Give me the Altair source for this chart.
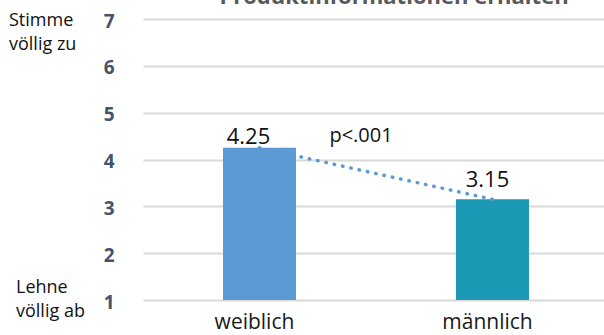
import altair as alt
import pandas as pd

categories = ["weiblich", "männlich"]
values = [4.25, 3.15]
value_labels = ["4.25", "3.15"]
bar_colors = ["#5b9bd5", "#1b99b5"]
y_ticks = [1, 2, 3, 4, 5, 6, 7]
title_text = "Produktinformationen erhalten"
top_label = ["Stimme", "völlig zu"]
bottom_label = ["Lehne", "völlig ab"]
p_text = "p<.001"

df = pd.DataFrame({"cat": categories, "val": values, "lab": value_labels})

FONT = "Open Sans"

x_enc = alt.X(
    "cat:N",
    sort=categories,
    scale=alt.Scale(paddingInner=0.6867, paddingOuter=0.3326, align=0.516),
    axis=alt.Axis(
        title=None, domain=False, ticks=False, tickSize=0, labelAngle=0,
        labelFont=FONT, labelFontSize=21, labelColor="#1a1a1a",
        labelBaseline="alphabetic", labelPadding=28, labelOffset=-5,
    ),
)
y_scale = alt.Scale(domain=[1, 7], zero=False, nice=False)

bars = alt.Chart(df).mark_bar().encode(
    x=x_enc,
    y=alt.Y(
        "val:Q", scale=y_scale,
        axis=alt.Axis(
            title=None, values=y_ticks, domain=False, ticks=False, tickSize=0,
            grid=True, gridColor="#d9d9d9", gridWidth=2,
            labelFont=FONT, labelFontSize=19, labelFontWeight="bold",
            labelColor="#44546a", labelPadding=29, labelBaseline="middle", labelOffset=2,
        ),
    ),
    y2=alt.datum(1),
    color=alt.Color("cat:N", sort=categories,
                    scale=alt.Scale(domain=categories, range=bar_colors), legend=None),
)

line = alt.Chart(df).mark_line(
    color="#5b9bd5", strokeWidth=3.5, strokeDash=[0.5, 8], strokeCap="round"
).encode(
    x=alt.X("cat:N", sort=categories),
    y=alt.Y("val:Q", scale=y_scale),
)

lab1 = alt.Chart(df).transform_filter(alt.datum.cat == categories[0]).mark_text(
    font=FONT, fontSize=22, color="#111111", baseline="alphabetic", dy=-4, dx=-11
).encode(x=alt.X("cat:N", sort=categories), y=alt.Y("val:Q", scale=y_scale), text="lab:N")

lab2 = alt.Chart(df).transform_filter(alt.datum.cat == categories[1]).mark_text(
    font=FONT, fontSize=22, color="#111111", baseline="alphabetic", dy=-12, dx=-5
).encode(x=alt.X("cat:N", sort=categories), y=alt.Y("val:Q", scale=y_scale), text="lab:N")

ann = pd.DataFrame({"t": [p_text]})
p_mark = alt.Chart(ann).mark_text(
    font=FONT, fontSize=20, color="#111111", baseline="alphabetic", align="center"
).encode(x=alt.value(218), y=alt.value(123), text="t:N")

title_df = pd.DataFrame({"t": [title_text]})
title_mark = alt.Chart(title_df).mark_text(
    font=FONT, fontSize=22, fontWeight="bold", color="#595959",
    baseline="alphabetic", align="center"
).encode(x=alt.value(251), y=alt.value(-15), text="t:N")

side_top = alt.Chart(pd.DataFrame({"t": ["\n".join(top_label)]})).mark_text(
    font=FONT, fontSize=18, color="#111111", baseline="alphabetic", align="left",
    lineBreak="\n", lineHeight=24
).encode(x=alt.value(-134), y=alt.value(7), text="t:N")

side_bot = alt.Chart(pd.DataFrame({"t": ["\n".join(bottom_label)]})).mark_text(
    font=FONT, fontSize=18, color="#111111", baseline="alphabetic", align="left",
    lineBreak="\n", lineHeight=24
).encode(x=alt.value(-127), y=alt.value(274), text="t:N")

chart = alt.layer(bars, line, lab1, lab2, p_mark, title_mark, side_top, side_bot).properties(
    width=461, height=281,
    autosize="none",
    padding={"left": 143, "top": 19, "right": 0, "bottom": 35},
).configure_view(stroke=None)

chart.save("out.html", embed_options={"renderer": "svg", "actions": False})
